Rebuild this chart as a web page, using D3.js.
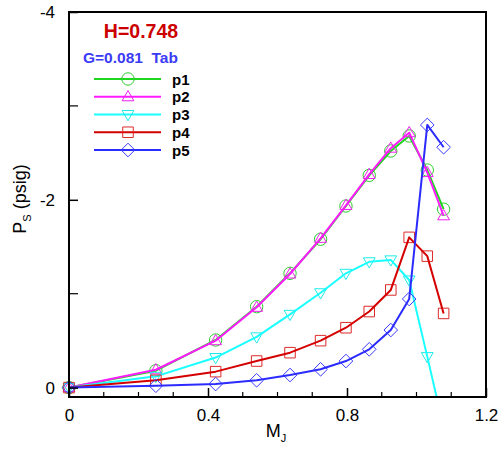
<!DOCTYPE html>
<html>
<head>
<meta charset="utf-8">
<script src="https://cdn.jsdelivr.net/npm/d3@7"></script>
<style>
  html, body { margin: 0; padding: 0; background: #fff; }
  svg { display: block; font-family: "Liberation Sans", Arial, sans-serif; }
</style>
</head>
<body>
<svg id="chart" width="500" height="450"></svg>
<script>
// Jet Mach number vs. static pressure at five ports
const machJ = [0, 0.25, 0.422, 0.54, 0.636, 0.724, 0.797, 0.864, 0.926, 0.979, 1.031, 1.078];
const p1 = [0, -0.18, -0.507, -0.862, -1.217, -1.58, -1.934, -2.26, -2.52, -2.68, -2.317, -1.90];
const p2 = [0, -0.19, -0.50, -0.855, -1.21, -1.59, -1.94, -2.27, -2.55, -2.715, -2.29, -1.83];
const p3 = [0, -0.12, -0.32, -0.54, -0.78, -1.01, -1.217, -1.34, -1.36, -1.146, -0.33, 0.42];
const p4 = [0, -0.078, -0.17, -0.283, -0.372, -0.50, -0.638, -0.81, -1.04, -1.60, -1.40, -0.79];
const p5 = [0, -0.02, -0.038, -0.078, -0.134, -0.195, -0.283, -0.408, -0.613, -0.944, -2.797, -2.56];

const seriesNames = ["p1", "p2", "p3", "p4", "p5"];
const xTicks = [0, 0.4, 0.8, 1.2];
const xTickLabels = ["0", "0.4", "0.8", "1.2"];
const yTicks = [0, -2, -4];
const yTickLabels = ["0", "-2", "-4"];

const seriesValues = [p1, p2, p3, p4, p5];
const colors = ["#1fd61f", "#ff1aff", "#1affff", "#d40000", "#2b2bff"];
const markerColors = ["#2ccf2c", "#f020f0", "#20eaea", "#dd2a2a", "#3a3aff"];
const symbols = ["circle", "up", "down", "square", "diamond"];

const svg = d3.select("#chart");
const plotL = 69, plotR = 486, plotT = 12, plotB = 397;

const x = d3.scaleLinear().domain([0, 1.2]).range([plotL, plotR]);
const y = d3.scaleLinear().domain([0.1, -4]).range([plotB, plotT]);

svg.append("defs").append("clipPath").attr("id", "plotClip")
  .append("rect").attr("x", plotL).attr("y", plotT)
  .attr("width", plotR - plotL).attr("height", plotB - plotT);

// Marker shapes
function markerPath(kind, s) {
  switch (kind) {
    case "up": return `M0,${-s}L${s * 0.95},${s * 0.65}L${-s * 0.95},${s * 0.65}Z`;
    case "down": return `M0,${s}L${s * 0.95},${-s * 0.65}L${-s * 0.95},${-s * 0.65}Z`;
    case "square": return `M${-s * 0.85},${-s * 0.85}H${s * 0.85}V${s * 0.85}H${-s * 0.85}Z`;
    case "diamond": return `M0,${-s * 1.1}L${s * 1.1},0L0,${s * 1.1}L${-s * 1.1},0Z`;
  }
  return null;
}
function drawMarker(g, kind, cx, cy, color) {
  if (kind === "circle") {
    g.append("circle").attr("cx", cx).attr("cy", cy).attr("r", 6.2)
      .attr("fill", "none").attr("stroke", color).attr("stroke-width", 1);
  } else {
    g.append("path").attr("d", markerPath(kind, 6.2))
      .attr("transform", `translate(${cx},${cy})`)
      .attr("fill", "none").attr("stroke", color).attr("stroke-width", 1);
  }
}

// Series
const line = d3.line().x((d, i) => x(machJ[i])).y(d => y(d));
seriesValues.forEach((vals, k) => {
  const g = svg.append("g");
  vals.forEach((v, i) => {
    if (v <= 0.1) drawMarker(g, symbols[k], x(machJ[i]), y(v), markerColors[k]);
  });
  g.append("path").datum(vals).attr("d", line)
    .attr("clip-path", "url(#plotClip)")
    .attr("fill", "none").attr("stroke", colors[k]).attr("stroke-width", 2)
    .attr("stroke-linejoin", "round");
});

// Frame
svg.append("rect").attr("x", plotL).attr("y", plotT)
  .attr("width", plotR - plotL).attr("height", plotB - plotT)
  .attr("fill", "none").attr("stroke", "#000").attr("stroke-width", 2);

// X axis
const xAxis = d3.axisBottom(x).tickValues(xTicks)
  .tickFormat((d, i) => xTickLabels[i]).tickSize(-9).tickPadding(12);
const gx = svg.append("g").attr("transform", `translate(0,${plotB})`).call(xAxis);
gx.select(".domain").remove();
gx.selectAll(".tick line").attr("stroke-width", 1.5);
gx.selectAll("text").attr("font-size", 17).attr("fill", "#000")
  .attr("font-family", "Liberation Sans, Arial, sans-serif");
const xMinor = d3.range(0.1, 1.2, 0.1).filter(v => Math.abs(v / 0.4 - Math.round(v / 0.4)) > 1e-6);
svg.append("g").selectAll("line").data(xMinor).join("line")
  .attr("x1", d => x(d)).attr("x2", d => x(d))
  .attr("y1", plotB).attr("y2", plotB - 5)
  .attr("stroke", "#000").attr("stroke-width", 1.2);

// Y axis
const yAxis = d3.axisLeft(y).tickValues(yTicks)
  .tickFormat((d, i) => yTickLabels[i]).tickSize(-9).tickPadding(14);
const gy = svg.append("g").attr("transform", `translate(${plotL},0)`).call(yAxis);
gy.select(".domain").remove();
gy.selectAll(".tick line").attr("stroke-width", 1.5);
gy.selectAll("text").attr("font-size", 17).attr("fill", "#000")
  .attr("font-family", "Liberation Sans, Arial, sans-serif");
svg.append("g").selectAll("line").data([-1, -3]).join("line")
  .attr("x1", plotL).attr("x2", plotL + 9)
  .attr("y1", d => y(d)).attr("y2", d => y(d))
  .attr("stroke", "#000").attr("stroke-width", 1.2);

// Axis titles
const xt = svg.append("text").attr("x", 276).attr("y", 437)
  .attr("text-anchor", "middle").attr("font-size", 18).attr("fill", "#000");
xt.append("tspan").text("M");
xt.append("tspan").text("J").attr("font-size", 11).attr("dy", 5);

const yt = svg.append("text")
  .attr("transform", "translate(26,199) rotate(-90)")
  .attr("text-anchor", "middle").attr("font-size", 18).attr("fill", "#000");
yt.append("tspan").text("P");
yt.append("tspan").text("S").attr("font-size", 11).attr("dy", 5);
yt.append("tspan").text(" (psig)").attr("dy", -5);

// Annotations
svg.append("text").attr("x", 141).attr("y", 38).attr("text-anchor", "middle")
  .attr("font-size", 19.5).attr("font-weight", "bold").attr("fill", "#cc0000")
  .text("H=0.748");
svg.append("text").attr("x", 83).attr("y", 63).attr("font-size", 15.5)
  .attr("font-weight", "bold").attr("fill", "#3b3bf5")
  .style("white-space", "pre").text("G=0.081  Tab");

// Legend
const legend = svg.append("g");
seriesNames.forEach((name, k) => {
  const ly = 79 + k * 17.75;
  legend.append("line").attr("x1", 94).attr("x2", 161).attr("y1", ly).attr("y2", ly)
    .attr("stroke", colors[k]).attr("stroke-width", 2);
  drawMarker(legend, symbols[k], 128, ly, markerColors[k]);
  legend.append("text").attr("x", 172).attr("y", ly + 5.5)
    .attr("font-size", 15).attr("font-weight", "bold").attr("fill", "#000").text(name);
});
</script>
</body>
</html>
